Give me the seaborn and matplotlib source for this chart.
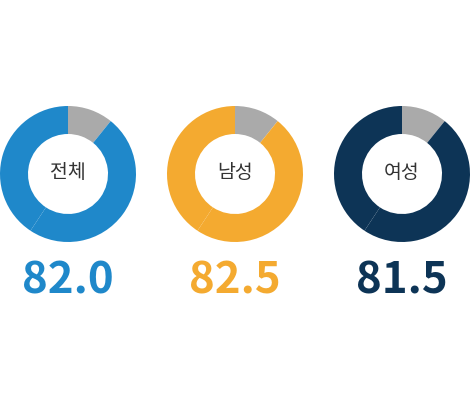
import matplotlib.pyplot as plt
import seaborn as sns

sns.set_theme(style="white")
plt.rcParams['font.family'] = ['Noto Sans CJK KR', 'DejaVu Sans']

# 전체 / 남성 / 여성 기대수명
groups = ["전체", "남성", "여성"]
scores = ["82.0", "82.5", "81.5"]
colors = ["#1f88ca", "#f4aa30", "#0d3456"]
rest_color = "#aaaaaa"

# ring shares: grey part, then the colored arc (drawn in two pieces)
gray_share = [10.8, 10.8, 10.8]
arc_a = [48.5, 48.5, 48.5]
arc_b = [40.7, 40.7, 40.7]

fig = plt.figure(figsize=(4.70, 4.03), dpi=100)
ax = fig.add_axes([0, 0, 1, 1])

centers_x = [68, 235, 402]
cy = 229
for i, name in enumerate(groups):
    ax.pie(
        [gray_share[i], arc_a[i], arc_b[i]],
        colors=[rest_color, colors[i], colors[i]],
        startangle=90,
        counterclock=False,
        center=(centers_x[i], cy),
        radius=68,
        wedgeprops={"width": 28, "edgecolor": "none", "linewidth": 0},
    )
    ax.text(centers_x[i], cy + 1, name, ha="center", va="center",
            fontsize=14, color="#333333")
    ax.text(centers_x[i], 123, scores[i], ha="center", va="center",
            fontsize=31.5, fontweight="bold", color=colors[i])

ax.set_xlim(0, 470)
ax.set_ylim(0, 403)
ax.set_aspect("equal")
ax.axis("off")

fig.savefig("out.png", dpi=100, facecolor="white")
